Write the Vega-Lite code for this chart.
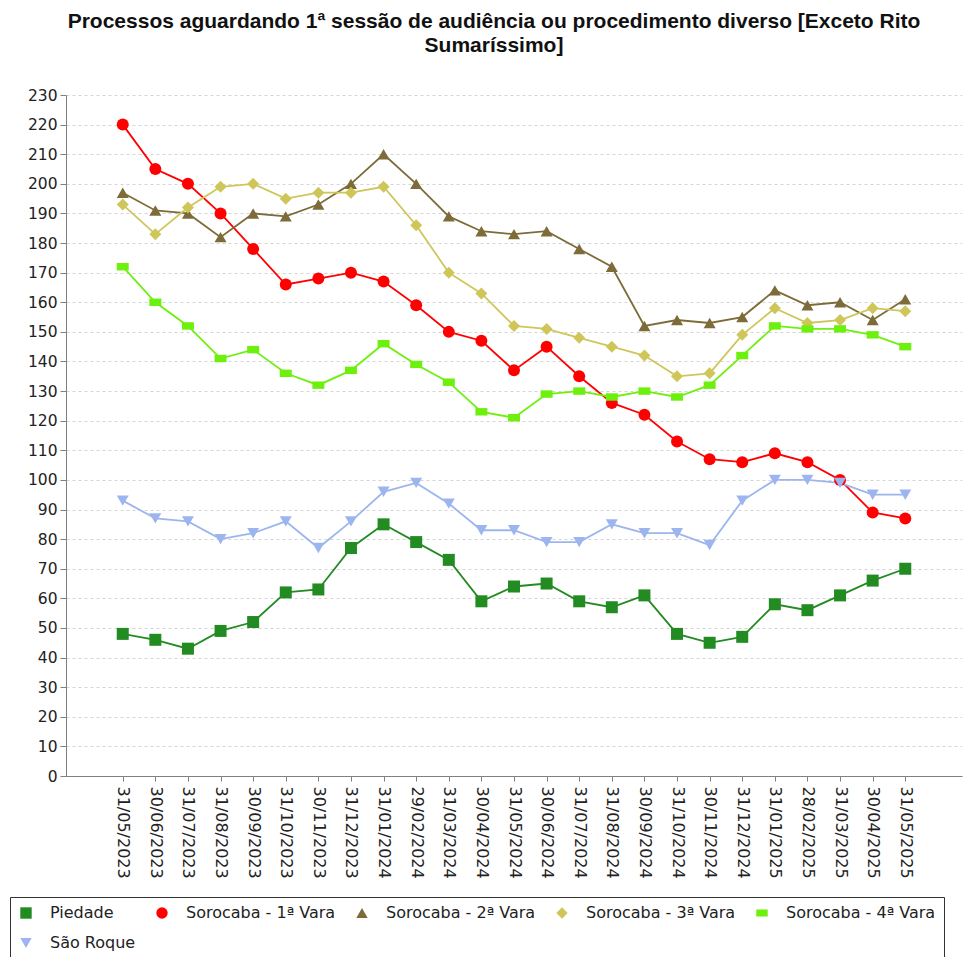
{
  "$schema": "https://vega.github.io/schema/vega-lite/v6.json",
  "width": 896,
  "height": 681,
  "autosize": {"type": "none"},
  "padding": {"left": 66, "top": 95, "right": 2, "bottom": 181},
  "background": "white",
  "title": {
    "text": ["Processos aguardando 1ª sessão de audiência ou procedimento diverso [Exceto Rito", "Sumaríssimo]"],
    "font": "Liberation Sans",
    "fontSize": 21,
    "fontWeight": "bold",
    "color": "#111111",
    "lineHeight": 24,
    "anchor": "middle",
    "dx": -20,
    "offset": 32
  },
  "config": {
    "view": {"stroke": null},
    "axis": {
      "labelFont": "DejaVu Sans",
      "labelFontSize": 15.5,
      "labelColor": "#222222",
      "domainColor": "#808080",
      "tickColor": "#808080",
      "titleFont": "DejaVu Sans"
    }
  },
  "data": {
    "values": [
      {"data": "31/05/2023", "serie": "Piedade", "valor": 48},
      {"data": "30/06/2023", "serie": "Piedade", "valor": 46},
      {"data": "31/07/2023", "serie": "Piedade", "valor": 43},
      {"data": "31/08/2023", "serie": "Piedade", "valor": 49},
      {"data": "30/09/2023", "serie": "Piedade", "valor": 52},
      {"data": "31/10/2023", "serie": "Piedade", "valor": 62},
      {"data": "30/11/2023", "serie": "Piedade", "valor": 63},
      {"data": "31/12/2023", "serie": "Piedade", "valor": 77},
      {"data": "31/01/2024", "serie": "Piedade", "valor": 85},
      {"data": "29/02/2024", "serie": "Piedade", "valor": 79},
      {"data": "31/03/2024", "serie": "Piedade", "valor": 73},
      {"data": "30/04/2024", "serie": "Piedade", "valor": 59},
      {"data": "31/05/2024", "serie": "Piedade", "valor": 64},
      {"data": "30/06/2024", "serie": "Piedade", "valor": 65},
      {"data": "31/07/2024", "serie": "Piedade", "valor": 59},
      {"data": "31/08/2024", "serie": "Piedade", "valor": 57},
      {"data": "30/09/2024", "serie": "Piedade", "valor": 61},
      {"data": "31/10/2024", "serie": "Piedade", "valor": 48},
      {"data": "30/11/2024", "serie": "Piedade", "valor": 45},
      {"data": "31/12/2024", "serie": "Piedade", "valor": 47},
      {"data": "31/01/2025", "serie": "Piedade", "valor": 58},
      {"data": "28/02/2025", "serie": "Piedade", "valor": 56},
      {"data": "31/03/2025", "serie": "Piedade", "valor": 61},
      {"data": "30/04/2025", "serie": "Piedade", "valor": 66},
      {"data": "31/05/2025", "serie": "Piedade", "valor": 70},

      {"data": "31/05/2023", "serie": "Sorocaba - 1ª Vara", "valor": 220},
      {"data": "30/06/2023", "serie": "Sorocaba - 1ª Vara", "valor": 205},
      {"data": "31/07/2023", "serie": "Sorocaba - 1ª Vara", "valor": 200},
      {"data": "31/08/2023", "serie": "Sorocaba - 1ª Vara", "valor": 190},
      {"data": "30/09/2023", "serie": "Sorocaba - 1ª Vara", "valor": 178},
      {"data": "31/10/2023", "serie": "Sorocaba - 1ª Vara", "valor": 166},
      {"data": "30/11/2023", "serie": "Sorocaba - 1ª Vara", "valor": 168},
      {"data": "31/12/2023", "serie": "Sorocaba - 1ª Vara", "valor": 170},
      {"data": "31/01/2024", "serie": "Sorocaba - 1ª Vara", "valor": 167},
      {"data": "29/02/2024", "serie": "Sorocaba - 1ª Vara", "valor": 159},
      {"data": "31/03/2024", "serie": "Sorocaba - 1ª Vara", "valor": 150},
      {"data": "30/04/2024", "serie": "Sorocaba - 1ª Vara", "valor": 147},
      {"data": "31/05/2024", "serie": "Sorocaba - 1ª Vara", "valor": 137},
      {"data": "30/06/2024", "serie": "Sorocaba - 1ª Vara", "valor": 145},
      {"data": "31/07/2024", "serie": "Sorocaba - 1ª Vara", "valor": 135},
      {"data": "31/08/2024", "serie": "Sorocaba - 1ª Vara", "valor": 126},
      {"data": "30/09/2024", "serie": "Sorocaba - 1ª Vara", "valor": 122},
      {"data": "31/10/2024", "serie": "Sorocaba - 1ª Vara", "valor": 113},
      {"data": "30/11/2024", "serie": "Sorocaba - 1ª Vara", "valor": 107},
      {"data": "31/12/2024", "serie": "Sorocaba - 1ª Vara", "valor": 106},
      {"data": "31/01/2025", "serie": "Sorocaba - 1ª Vara", "valor": 109},
      {"data": "28/02/2025", "serie": "Sorocaba - 1ª Vara", "valor": 106},
      {"data": "31/03/2025", "serie": "Sorocaba - 1ª Vara", "valor": 100},
      {"data": "30/04/2025", "serie": "Sorocaba - 1ª Vara", "valor": 89},
      {"data": "31/05/2025", "serie": "Sorocaba - 1ª Vara", "valor": 87},

      {"data": "31/05/2023", "serie": "Sorocaba - 2ª Vara", "valor": 197},
      {"data": "30/06/2023", "serie": "Sorocaba - 2ª Vara", "valor": 191},
      {"data": "31/07/2023", "serie": "Sorocaba - 2ª Vara", "valor": 190},
      {"data": "31/08/2023", "serie": "Sorocaba - 2ª Vara", "valor": 182},
      {"data": "30/09/2023", "serie": "Sorocaba - 2ª Vara", "valor": 190},
      {"data": "31/10/2023", "serie": "Sorocaba - 2ª Vara", "valor": 189},
      {"data": "30/11/2023", "serie": "Sorocaba - 2ª Vara", "valor": 193},
      {"data": "31/12/2023", "serie": "Sorocaba - 2ª Vara", "valor": 200},
      {"data": "31/01/2024", "serie": "Sorocaba - 2ª Vara", "valor": 210},
      {"data": "29/02/2024", "serie": "Sorocaba - 2ª Vara", "valor": 200},
      {"data": "31/03/2024", "serie": "Sorocaba - 2ª Vara", "valor": 189},
      {"data": "30/04/2024", "serie": "Sorocaba - 2ª Vara", "valor": 184},
      {"data": "31/05/2024", "serie": "Sorocaba - 2ª Vara", "valor": 183},
      {"data": "30/06/2024", "serie": "Sorocaba - 2ª Vara", "valor": 184},
      {"data": "31/07/2024", "serie": "Sorocaba - 2ª Vara", "valor": 178},
      {"data": "31/08/2024", "serie": "Sorocaba - 2ª Vara", "valor": 172},
      {"data": "30/09/2024", "serie": "Sorocaba - 2ª Vara", "valor": 152},
      {"data": "31/10/2024", "serie": "Sorocaba - 2ª Vara", "valor": 154},
      {"data": "30/11/2024", "serie": "Sorocaba - 2ª Vara", "valor": 153},
      {"data": "31/12/2024", "serie": "Sorocaba - 2ª Vara", "valor": 155},
      {"data": "31/01/2025", "serie": "Sorocaba - 2ª Vara", "valor": 164},
      {"data": "28/02/2025", "serie": "Sorocaba - 2ª Vara", "valor": 159},
      {"data": "31/03/2025", "serie": "Sorocaba - 2ª Vara", "valor": 160},
      {"data": "30/04/2025", "serie": "Sorocaba - 2ª Vara", "valor": 154},
      {"data": "31/05/2025", "serie": "Sorocaba - 2ª Vara", "valor": 161},

      {"data": "31/05/2023", "serie": "Sorocaba - 3ª Vara", "valor": 193},
      {"data": "30/06/2023", "serie": "Sorocaba - 3ª Vara", "valor": 183},
      {"data": "31/07/2023", "serie": "Sorocaba - 3ª Vara", "valor": 192},
      {"data": "31/08/2023", "serie": "Sorocaba - 3ª Vara", "valor": 199},
      {"data": "30/09/2023", "serie": "Sorocaba - 3ª Vara", "valor": 200},
      {"data": "31/10/2023", "serie": "Sorocaba - 3ª Vara", "valor": 195},
      {"data": "30/11/2023", "serie": "Sorocaba - 3ª Vara", "valor": 197},
      {"data": "31/12/2023", "serie": "Sorocaba - 3ª Vara", "valor": 197},
      {"data": "31/01/2024", "serie": "Sorocaba - 3ª Vara", "valor": 199},
      {"data": "29/02/2024", "serie": "Sorocaba - 3ª Vara", "valor": 186},
      {"data": "31/03/2024", "serie": "Sorocaba - 3ª Vara", "valor": 170},
      {"data": "30/04/2024", "serie": "Sorocaba - 3ª Vara", "valor": 163},
      {"data": "31/05/2024", "serie": "Sorocaba - 3ª Vara", "valor": 152},
      {"data": "30/06/2024", "serie": "Sorocaba - 3ª Vara", "valor": 151},
      {"data": "31/07/2024", "serie": "Sorocaba - 3ª Vara", "valor": 148},
      {"data": "31/08/2024", "serie": "Sorocaba - 3ª Vara", "valor": 145},
      {"data": "30/09/2024", "serie": "Sorocaba - 3ª Vara", "valor": 142},
      {"data": "31/10/2024", "serie": "Sorocaba - 3ª Vara", "valor": 135},
      {"data": "30/11/2024", "serie": "Sorocaba - 3ª Vara", "valor": 136},
      {"data": "31/12/2024", "serie": "Sorocaba - 3ª Vara", "valor": 149},
      {"data": "31/01/2025", "serie": "Sorocaba - 3ª Vara", "valor": 158},
      {"data": "28/02/2025", "serie": "Sorocaba - 3ª Vara", "valor": 153},
      {"data": "31/03/2025", "serie": "Sorocaba - 3ª Vara", "valor": 154},
      {"data": "30/04/2025", "serie": "Sorocaba - 3ª Vara", "valor": 158},
      {"data": "31/05/2025", "serie": "Sorocaba - 3ª Vara", "valor": 157},

      {"data": "31/05/2023", "serie": "Sorocaba - 4ª Vara", "valor": 172},
      {"data": "30/06/2023", "serie": "Sorocaba - 4ª Vara", "valor": 160},
      {"data": "31/07/2023", "serie": "Sorocaba - 4ª Vara", "valor": 152},
      {"data": "31/08/2023", "serie": "Sorocaba - 4ª Vara", "valor": 141},
      {"data": "30/09/2023", "serie": "Sorocaba - 4ª Vara", "valor": 144},
      {"data": "31/10/2023", "serie": "Sorocaba - 4ª Vara", "valor": 136},
      {"data": "30/11/2023", "serie": "Sorocaba - 4ª Vara", "valor": 132},
      {"data": "31/12/2023", "serie": "Sorocaba - 4ª Vara", "valor": 137},
      {"data": "31/01/2024", "serie": "Sorocaba - 4ª Vara", "valor": 146},
      {"data": "29/02/2024", "serie": "Sorocaba - 4ª Vara", "valor": 139},
      {"data": "31/03/2024", "serie": "Sorocaba - 4ª Vara", "valor": 133},
      {"data": "30/04/2024", "serie": "Sorocaba - 4ª Vara", "valor": 123},
      {"data": "31/05/2024", "serie": "Sorocaba - 4ª Vara", "valor": 121},
      {"data": "30/06/2024", "serie": "Sorocaba - 4ª Vara", "valor": 129},
      {"data": "31/07/2024", "serie": "Sorocaba - 4ª Vara", "valor": 130},
      {"data": "31/08/2024", "serie": "Sorocaba - 4ª Vara", "valor": 128},
      {"data": "30/09/2024", "serie": "Sorocaba - 4ª Vara", "valor": 130},
      {"data": "31/10/2024", "serie": "Sorocaba - 4ª Vara", "valor": 128},
      {"data": "30/11/2024", "serie": "Sorocaba - 4ª Vara", "valor": 132},
      {"data": "31/12/2024", "serie": "Sorocaba - 4ª Vara", "valor": 142},
      {"data": "31/01/2025", "serie": "Sorocaba - 4ª Vara", "valor": 152},
      {"data": "28/02/2025", "serie": "Sorocaba - 4ª Vara", "valor": 151},
      {"data": "31/03/2025", "serie": "Sorocaba - 4ª Vara", "valor": 151},
      {"data": "30/04/2025", "serie": "Sorocaba - 4ª Vara", "valor": 149},
      {"data": "31/05/2025", "serie": "Sorocaba - 4ª Vara", "valor": 145},

      {"data": "31/05/2023", "serie": "São Roque", "valor": 93},
      {"data": "30/06/2023", "serie": "São Roque", "valor": 87},
      {"data": "31/07/2023", "serie": "São Roque", "valor": 86},
      {"data": "31/08/2023", "serie": "São Roque", "valor": 80},
      {"data": "30/09/2023", "serie": "São Roque", "valor": 82},
      {"data": "31/10/2023", "serie": "São Roque", "valor": 86},
      {"data": "30/11/2023", "serie": "São Roque", "valor": 77},
      {"data": "31/12/2023", "serie": "São Roque", "valor": 86},
      {"data": "31/01/2024", "serie": "São Roque", "valor": 96},
      {"data": "29/02/2024", "serie": "São Roque", "valor": 99},
      {"data": "31/03/2024", "serie": "São Roque", "valor": 92},
      {"data": "30/04/2024", "serie": "São Roque", "valor": 83},
      {"data": "31/05/2024", "serie": "São Roque", "valor": 83},
      {"data": "30/06/2024", "serie": "São Roque", "valor": 79},
      {"data": "31/07/2024", "serie": "São Roque", "valor": 79},
      {"data": "31/08/2024", "serie": "São Roque", "valor": 85},
      {"data": "30/09/2024", "serie": "São Roque", "valor": 82},
      {"data": "31/10/2024", "serie": "São Roque", "valor": 82},
      {"data": "30/11/2024", "serie": "São Roque", "valor": 78},
      {"data": "31/12/2024", "serie": "São Roque", "valor": 93},
      {"data": "31/01/2025", "serie": "São Roque", "valor": 100},
      {"data": "28/02/2025", "serie": "São Roque", "valor": 100},
      {"data": "31/03/2025", "serie": "São Roque", "valor": 99},
      {"data": "30/04/2025", "serie": "São Roque", "valor": 95},
      {"data": "31/05/2025", "serie": "São Roque", "valor": 95}
    ]
  },
  "encoding": {
    "x": {
      "field": "data",
      "type": "nominal",
      "sort": null,
      "scale": {
        "type": "point",
        "padding": 0.74,
        "domain": ["", "31/05/2023", "30/06/2023", "31/07/2023", "31/08/2023", "30/09/2023", "31/10/2023", "30/11/2023", "31/12/2023", "31/01/2024", "29/02/2024", "31/03/2024", "30/04/2024", "31/05/2024", "30/06/2024", "31/07/2024", "31/08/2024", "30/09/2024", "31/10/2024", "30/11/2024", "31/12/2024", "31/01/2025", "28/02/2025", "31/03/2025", "30/04/2025", "31/05/2025", " "]
      },
      "axis": {
        "title": null,
        "values": ["31/05/2023", "30/06/2023", "31/07/2023", "31/08/2023", "30/09/2023", "31/10/2023", "30/11/2023", "31/12/2023", "31/01/2024", "29/02/2024", "31/03/2024", "30/04/2024", "31/05/2024", "30/06/2024", "31/07/2024", "31/08/2024", "30/09/2024", "31/10/2024", "30/11/2024", "31/12/2024", "31/01/2025", "28/02/2025", "31/03/2025", "30/04/2025", "31/05/2025"],
        "labelAngle": 90,
        "labelFontSize": 16,
        "labelPadding": 5,
        "tickSize": 5,
        "grid": false,
        "domainColor": "#808080"
      }
    },
    "y": {
      "field": "valor",
      "type": "quantitative",
      "scale": {"domain": [0, 230], "nice": false, "zero": true},
      "axis": {
        "title": null,
        "values": [0, 10, 20, 30, 40, 50, 60, 70, 80, 90, 100, 110, 120, 130, 140, 150, 160, 170, 180, 190, 200, 210, 220, 230],
        "tickSize": 6,
        "labelPadding": 3,
        "grid": true,
        "gridColor": "#d4d4d4",
        "gridDash": [3, 3],
        "gridWidth": 1
      }
    },
    "color": {
      "field": "serie",
      "type": "nominal",
      "scale": {
        "domain": ["Piedade", "Sorocaba - 1ª Vara", "Sorocaba - 2ª Vara", "Sorocaba - 3ª Vara", "Sorocaba - 4ª Vara", "São Roque"],
        "range": ["#228b22", "#ff0000", "#7d6c39", "#cfc65a", "#6ef00e", "#9db5ef"]
      },
      "legend": {
        "title": null,
        "orient": "none",
        "legendX": -56,
        "legendY": 802,
        "direction": "horizontal",
        "columns": 5,
        "gridAlign": "none",
        "strokeColor": "#333333",
        "padding": 8,
        "fillColor": "white",
        "labelFont": "DejaVu Sans",
        "labelFontSize": 16,
        "labelColor": "#222222",
        "labelLimit": 400,
        "labelOffset": 16,
        "symbolOffset": 0,
        "columnPadding": 18,
        "rowPadding": 14,
        "symbolSize": 130,
        "symbolStrokeWidth": 0,
        "symbolOpacity": 1
      }
    }
  },
  "layer": [
    {
      "mark": {"type": "line", "strokeWidth": 1.8},
      "encoding": {}
    },
    {
      "mark": {"type": "point", "filled": true, "opacity": 1, "size": 144},
      "encoding": {
        "shape": {
          "field": "serie",
          "type": "nominal",
          "scale": {
            "domain": ["Piedade", "Sorocaba - 1ª Vara", "Sorocaba - 2ª Vara", "Sorocaba - 3ª Vara", "Sorocaba - 4ª Vara", "São Roque"],
            "range": ["square", "circle", "triangle-up", "diamond", "M-1,-0.62H1V0.62H-1Z", "triangle-down"]
          },
          "legend": null
        }
      }
    }
  ]
}
